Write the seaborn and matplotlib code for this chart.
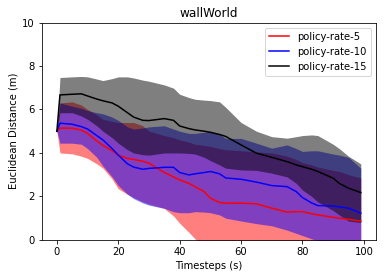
import matplotlib
matplotlib.use("Agg")
import matplotlib.pyplot as plt
import seaborn as sns

steps = [0, 1, 5, 8, 10, 13, 15, 18, 20, 23, 25, 28, 30, 35, 38, 40, 43, 45, 48, 50,
         53, 55, 60, 65, 70, 75, 78, 80, 83, 85, 90, 92, 95, 99]

labels = ["policy-rate-5", "policy-rate-10", "policy-rate-15"]
colors = ["red", "blue", "black"]

rate5_mean = [5.0, 5.14, 5.14, 5.05, 4.9, 4.55, 4.35, 4.1, 3.9, 3.75, 3.7, 3.62, 3.53, 3.1, 2.9, 2.76, 2.6,
              2.45, 2.22, 1.92, 1.72, 1.69, 1.69, 1.66, 1.46, 1.28, 1.3, 1.3, 1.2, 1.15, 1.04, 1.0, 0.95, 0.86]
rate5_upper = [5.0, 6.3, 6.35, 6.2, 6.0, 5.75, 5.55, 5.45, 5.4, 5.4, 5.4, 5.25, 5.0, 4.8, 4.7, 4.6, 4.5,
               4.4, 4.35, 4.3, 4.2, 4.15, 4.1, 4.05, 4.0, 3.85, 3.7, 3.55, 3.45, 3.35, 3.2, 3.15, 3.0, 2.85]
rate5_lower = [5.0, 4.0, 3.96, 3.85, 3.75, 3.5, 3.3, 2.8, 2.35, 2.1, 1.95, 1.75, 1.65, 1.45, 1.1, 0.77, 0.35,
               0.05, -0.35, -0.6, -0.8, -1.0, -1.0, -1.0, -1.0, -1.0, -1.0, -1.0, -1.0, -1.0, -1.0, -1.0, -1.0, -1.0]

rate10_mean = [5.0, 5.37, 5.32, 5.21, 5.1, 4.8, 4.6, 4.2, 3.9, 3.5, 3.35, 3.25, 3.29, 3.34, 3.34, 3.1, 2.99,
               3.04, 3.1, 3.15, 3.04, 2.85, 2.79, 2.66, 2.5, 2.45, 2.22, 1.95, 1.7, 1.58, 1.56, 1.52, 1.46, 1.23]
rate10_upper = [5.0, 6.3, 6.15, 6.05, 5.95, 5.85, 5.8, 5.65, 5.5, 5.2, 5.1, 5.15, 5.2, 5.25, 5.1, 5.0, 4.9,
                4.9, 4.95, 5.0, 4.85, 4.67, 4.67, 4.45, 4.22, 4.37, 4.2, 4.07, 4.1, 4.1, 3.95, 3.9, 3.8, 3.3]
rate10_lower = [5.0, 4.45, 4.45, 4.4, 4.2, 3.8, 3.4, 2.9, 2.5, 2.1, 1.9, 1.7, 1.6, 1.45, 1.3, 1.25, 1.25,
                1.3, 1.28, 1.25, 1.15, 1.0, 0.87, 0.75, 0.65, 0.45, 0.3, 0.2, 0.05, -0.05, -0.2, -0.2, -0.2, -0.2]

rate15_mean = [5.0, 6.67, 6.7, 6.72, 6.62, 6.48, 6.4, 6.3, 6.15, 5.85, 5.65, 5.5, 5.49, 5.58, 5.5, 5.24, 5.12,
               5.06, 5.0, 4.95, 4.85, 4.76, 4.37, 3.99, 3.8, 3.6, 3.45, 3.37, 3.25, 3.15, 2.84, 2.6, 2.38, 2.18]
rate15_upper = [5.0, 7.47, 7.5, 7.52, 7.5, 7.4, 7.33, 7.42, 7.5, 7.5, 7.45, 7.35, 7.3, 7.13, 6.98, 6.7, 6.55,
                6.47, 6.43, 6.41, 6.35, 6.1, 5.4, 5.0, 4.75, 4.68, 4.75, 4.8, 4.83, 4.8, 4.4, 4.2, 3.85, 3.5]
rate15_lower = [5.0, 5.85, 5.85, 5.7, 5.55, 5.25, 5.0, 4.7, 4.45, 4.15, 4.0, 3.92, 3.9, 4.0, 4.0, 4.0, 3.98,
                3.95, 3.8, 3.65, 3.45, 3.3, 3.22, 3.2, 3.07, 2.9, 2.6, 2.3, 2.0, 1.75, 1.35, 1.15, 0.87, 0.8]

means = [rate5_mean, rate10_mean, rate15_mean]
uppers = [rate5_upper, rate10_upper, rate15_upper]
lowers = [rate5_lower, rate10_lower, rate15_lower]

fig = plt.figure(figsize=(386 / 72, 278 / 72), dpi=72)
ax = fig.add_axes([0.108, 0.137, 0.866, 0.782])

for label, color, mean, lo, hi in zip(labels, colors, means, lowers, uppers):
    sns.lineplot(x=steps, y=mean, color=color, label=label, ax=ax)
    ax.fill_between(steps, lo, hi, color=color, alpha=0.5, linewidth=0)

ax.set_ylim(0, 10)
ax.set_title("wallWorld")
ax.set_xlabel("Timesteps (s)")
ax.set_ylabel("Euclidean Distance (m)")
ax.legend(loc="upper right")

fig.savefig("out.png", dpi=72)
